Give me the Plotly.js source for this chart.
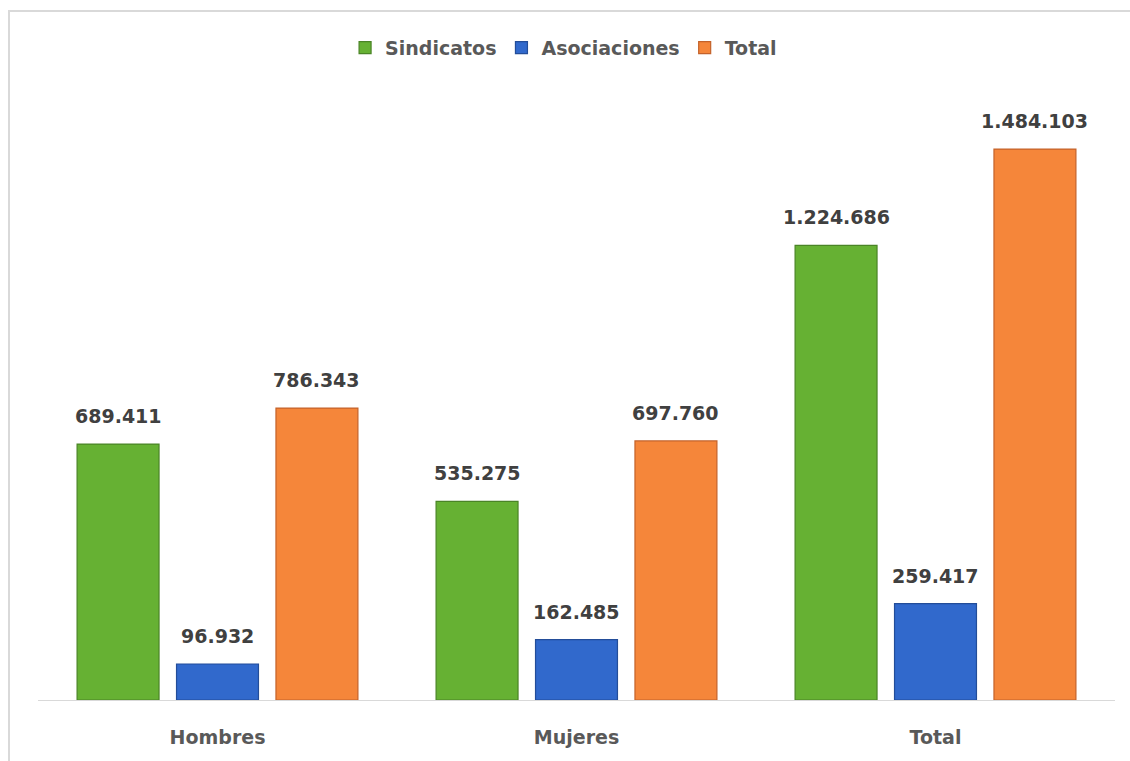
<!DOCTYPE html>
<html>
<head>
<meta charset="utf-8">
<script src="https://cdn.plot.ly/plotly-3.0.1.min.js"></script>
<style>
  html, body { margin: 0; padding: 0; background: #ffffff; }
  #frame { position: absolute; left: 8px; top: 10px; width: 1140px; height: 770px;
           border-left: 2px solid #d9d9d9; border-top: 2px solid #d9d9d9; box-sizing: border-box; }
  #chart { position: absolute; left: 0; top: 0; width: 1130px; height: 761px; }
</style>
</head>
<body>
<div id="frame"></div>
<div id="chart"></div>
<script>
// ---- data ----
const categories = ["Hombres", "Mujeres", "Total"];
const seriesNames = ["Sindicatos", "Asociaciones", "Total"];
const sindicatos = [689411, 535275, 1224686];
const asociaciones = [96932, 162485, 259417];
const totales = [786343, 697760, 1484103];

// ---- styling ----
const colors = ["#66b133", "#3169cc", "#f5863a"];
const edgeColors = ["#4a8426", "#234d99", "#c4622a"];
const FONT = "DejaVu Sans, Liberation Sans, sans-serif";

function fmt(v) {
  return String(v).replace(/\B(?=(\d{3})+(?!\d))/g, ".");
}

const allSeries = [sindicatos, asociaciones, totales];
const xIdx = categories.map((c, i) => i);

const traces = allSeries.map((vals, s) => ({
  type: "bar",
  name: seriesNames[s],
  x: xIdx,
  y: vals,
  marker: { color: colors[s], line: { color: edgeColors[s], width: 1.2 } },
  hoverinfo: "skip"
}));

const bargap = 0.169, bargroupgap = 0.176;
const slot = (1 - bargap) / 3;
const annotations = [];
allSeries.forEach((vals, s) => {
  vals.forEach((v, i) => {
    annotations.push({
      x: i + (s - 1) * slot, y: v, xref: "x", yref: "y",
      text: "<b>" + fmt(v) + "</b>", showarrow: false,
      yanchor: "bottom", yshift: 15,
      font: { family: FONT, size: 19, color: "#404040" }
    });
  });
});

const layout = {
  width: 1130, height: 761,
  margin: { l: 38, r: 15, t: 106, b: 61 },
  paper_bgcolor: "rgba(0,0,0,0)",
  plot_bgcolor: "rgba(0,0,0,0)",
  barmode: "group",
  bargap: bargap,
  bargroupgap: bargroupgap,
  showlegend: true,
  legend: {
    orientation: "h", x: 0.488, xanchor: "center", y: 1.098, yanchor: "middle",
    itemwidth: 30, traceorder: "normal",
    font: { family: FONT, size: 19, color: "#595959", weight: "bold" }
  },
  xaxis: {
    tickmode: "array", tickvals: xIdx, ticktext: categories,
    range: [-0.5, 2.5],
    showline: true, linecolor: "#d9d9d9", linewidth: 1,
    showgrid: false, zeroline: false, ticks: "",
    ticklabelstandoff: 20,
    tickfont: { family: FONT, size: 19, color: "#595959", weight: "bold" },
    fixedrange: true
  },
  yaxis: {
    range: [0, 1600000], visible: false, showgrid: false, zeroline: false,
    fixedrange: true
  },
  annotations: annotations
};

Plotly.newPlot("chart", traces, layout, { displayModeBar: false, staticPlot: true });
</script>
</body>
</html>
